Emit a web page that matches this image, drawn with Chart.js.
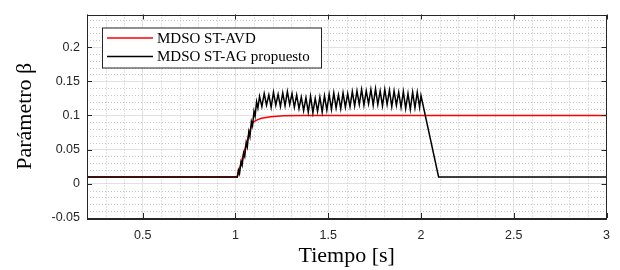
<!DOCTYPE html>
<html>
<head>
<meta charset="utf-8">
<script src="https://cdn.jsdelivr.net/npm/chart.js@4.4.1/dist/chart.umd.min.js"></script>
<style>
    html, body { margin: 0; padding: 0; background: #ffffff; }
    #wrap { width: 620px; height: 270px; }
</style>
</head>
<body>
<div id="wrap"><canvas id="betaChart" width="620" height="270"></canvas></div>
<script>

//datos
var seriesNames = ["MDSO ST-AVD", "MDSO ST-AG propuesto"];

//MDSO ST-AVD (rojo)
var avdTime = [0.2, 1.01, 1.03, 1.05, 1.07, 1.09, 1.10, 1.12, 1.14, 1.19, 1.26, 1.37, 3.0];
var avdBeta = [0.01, 0.01, 0.03, 0.05, 0.07, 0.088, 0.091, 0.094, 0.096, 0.098, 0.0995, 0.1, 0.1];

//MDSO ST-AG propuesto (negro)
var agTime = [0.2, 1.01, 1.016, 1.022, 1.030, 1.036, 1.044, 1.050, 1.058, 1.064, 1.072, 1.078, 1.086, 1.092, 1.100, 1.106, 1.114, 1.121,
    1.130, 1.1425, 1.155, 1.1675, 1.180, 1.1925, 1.205, 1.2175, 1.230, 1.2425,
    1.255, 1.2675, 1.280, 1.2925, 1.305, 1.3175, 1.330, 1.3425, 1.355, 1.3675,
    1.380, 1.3925, 1.405, 1.4175, 1.430, 1.4425, 1.455, 1.4675, 1.480, 1.4925,
    1.505, 1.5175, 1.530, 1.5425, 1.555, 1.5675, 1.580, 1.5925, 1.605, 1.6175,
    1.630, 1.6425, 1.655, 1.6675, 1.680, 1.6925, 1.705, 1.7175, 1.730, 1.7425,
    1.755, 1.7675, 1.780, 1.7925, 1.805, 1.8175, 1.830, 1.8425, 1.855, 1.8675,
    1.880, 1.8925, 1.905, 1.9175, 1.930, 1.9425, 1.955, 1.9675, 1.980, 1.9925,
    2.0, 2.095, 3.0];
var agBeta = [0.01, 0.01, 0.020, 0.015, 0.032, 0.027, 0.045, 0.040, 0.060, 0.054, 0.076, 0.069, 0.091, 0.085, 0.106, 0.099, 0.120, 0.111,
    0.128, 0.113, 0.132, 0.115, 0.130, 0.112, 0.134, 0.115, 0.131, 0.113,
    0.133, 0.114, 0.135, 0.116, 0.132, 0.112, 0.130, 0.110, 0.127, 0.107,
    0.126, 0.105, 0.128, 0.104, 0.125, 0.106, 0.127, 0.105, 0.129, 0.108,
    0.131, 0.109, 0.133, 0.111, 0.130, 0.110, 0.133, 0.112, 0.132, 0.113,
    0.135, 0.114, 0.136, 0.116, 0.138, 0.115, 0.136, 0.117, 0.138, 0.115,
    0.139, 0.116, 0.136, 0.114, 0.138, 0.116, 0.137, 0.113, 0.136, 0.115,
    0.134, 0.112, 0.135, 0.110, 0.132, 0.109, 0.134, 0.111, 0.134, 0.112,
    0.129, 0.01, 0.01];

//ejes
var xMin = 0.2, xMax = 3.0, xMajor = 0.5, xMinor = 0.1;
var yMin = -0.05, yMax = 0.2477, yMajor = 0.05, yMinor = 0.01;

function toPoints(t, v) {
    return t.map((tt, i) => ({ x: tt, y: v[i] }));
}

function isMajor(v, step) {
    return Math.abs(v / step - Math.round(v / step)) < 1e-6;
}

function tickText(v) {
    return String(Math.round(v * 100) / 100);
}

var axisColor = '#262626';

//rejilla menor punteada, marcas interiores, caja y leyenda
var matlabFrame = {
    id: 'matlabFrame',
    beforeDatasetsDraw(chart) {
        const { ctx, chartArea: a, scales: { x, y } } = chart;
        ctx.save();
        ctx.strokeStyle = '#c4c4c4';
        ctx.lineWidth = 1;
        ctx.setLineDash([1, 2]);
        x.ticks.forEach(t => {
            if (isMajor(t.value, xMajor)) return;
            const p = Math.round(x.getPixelForValue(t.value)) + 0.5;
            ctx.beginPath(); ctx.moveTo(p, a.top); ctx.lineTo(p, a.bottom); ctx.stroke();
        });
        y.ticks.forEach(t => {
            if (isMajor(t.value, yMajor)) return;
            const p = Math.round(y.getPixelForValue(t.value)) + 0.5;
            ctx.beginPath(); ctx.moveTo(a.left, p); ctx.lineTo(a.right, p); ctx.stroke();
        });
        ctx.restore();
    },
    afterDraw(chart) {
        const { ctx, chartArea: a, scales: { x, y } } = chart;
        ctx.save();
        ctx.strokeStyle = axisColor;
        ctx.lineWidth = 1;
        ctx.setLineDash([]);
        ctx.strokeRect(Math.round(a.left) + 0.5, Math.round(a.top) + 0.5,
            Math.round(a.right - a.left) - 1, Math.round(a.bottom - a.top));
        const len = 5;
        x.ticks.forEach(t => {
            if (!isMajor(t.value, xMajor)) return;
            const p = Math.round(x.getPixelForValue(t.value)) + 0.5;
            ctx.beginPath();
            ctx.moveTo(p, a.bottom); ctx.lineTo(p, a.bottom - len);
            ctx.moveTo(p, a.top); ctx.lineTo(p, a.top + len);
            ctx.stroke();
        });
        y.ticks.forEach(t => {
            if (!isMajor(t.value, yMajor)) return;
            const p = Math.round(y.getPixelForValue(t.value)) + 0.5;
            ctx.beginPath();
            ctx.moveTo(a.left, p); ctx.lineTo(a.left + len, p);
            ctx.moveTo(a.right, p); ctx.lineTo(a.right - len, p);
            ctx.stroke();
        });

        //leyenda
        const bx = a.left + 15, by = a.top + 13, bw = 219, bh = 40;
        ctx.fillStyle = '#ffffff';
        ctx.fillRect(bx, by, bw, bh);
        ctx.strokeStyle = axisColor;
        ctx.strokeRect(bx + 0.5, by + 0.5, bw, bh);
        ctx.font = '15px "Liberation Serif", "Times New Roman", serif';
        ctx.textBaseline = 'middle';
        chart.data.datasets.forEach((ds, i) => {
            const ly = by + 10.5 + i * 18.5;
            ctx.strokeStyle = ds.borderColor;
            ctx.lineWidth = 1.5;
            ctx.beginPath(); ctx.moveTo(bx + 5, ly); ctx.lineTo(bx + 51, ly); ctx.stroke();
            ctx.fillStyle = '#000000';
            ctx.fillText(ds.label, bx + 55, ly + 1);
        });
        ctx.restore();
    }
};

var betaConfig = {
    type: 'line',
    data: {
        datasets: [
            {
                label: seriesNames[0],
                data: toPoints(avdTime, avdBeta),
                borderColor: '#ff0000',
                borderWidth: 1.5,
                pointRadius: 0,
                order: 2,
            },
            {
                label: seriesNames[1],
                data: toPoints(agTime, agBeta),
                borderColor: '#000000',
                borderWidth: 1.5,
                pointRadius: 0,
                order: 1,
            }
        ],
    },
    options: {
        responsive: false,
        animation: false,
        layout: { padding: { top: 10, right: 12, left: 0, bottom: 0 } },
        plugins: {
            legend: { display: false },
            tooltip: { enabled: false },
        },
        scales: {
            x: {
                type: 'linear',
                min: xMin,
                max: xMax,
                afterFit: s => { s.height = 52; },
                border: { color: axisColor, width: 1 },
                grid: {
                    drawTicks: false,
                    color: c => (c.tick && isMajor(c.tick.value, xMajor) ? '#e2e2e2' : 'rgba(0,0,0,0)'),
                },
                ticks: {
                    stepSize: xMinor,
                    autoSkip: false,
                    maxRotation: 0,
                    padding: 10,
                    color: axisColor,
                    font: { family: '"Liberation Sans", Arial, sans-serif', size: 12.5 },
                    callback: v => (isMajor(v, xMajor) ? tickText(v) : ''),
                },
                title: {
                    display: true,
                    text: 'Tiempo [s]',
                    color: '#000000',
                    padding: { top: 0, bottom: 1 },
                    font: { family: '"Liberation Serif", "Times New Roman", serif', size: 22 },
                },
            },
            y: {
                type: 'linear',
                min: yMin,
                max: yMax,
                afterFit: s => { s.width = 87; },
                border: { color: axisColor, width: 1 },
                grid: {
                    drawTicks: false,
                    color: c => (c.tick && isMajor(c.tick.value, yMajor) ? '#e2e2e2' : 'rgba(0,0,0,0)'),
                },
                ticks: {
                    stepSize: yMinor,
                    includeBounds: false,
                    autoSkip: false,
                    padding: 7,
                    color: axisColor,
                    font: { family: '"Liberation Sans", Arial, sans-serif', size: 12.5 },
                    callback: v => (isMajor(v, yMajor) ? tickText(v) : ''),
                },
                title: {
                    display: true,
                    text: 'Parámetro β',
                    color: '#000000',
                    padding: { top: 12, bottom: 0 },
                    font: { family: '"Liberation Serif", "Times New Roman", serif', size: 22 },
                },
            },
        },
    },
    plugins: [matlabFrame],
};

window.addEventListener('DOMContentLoaded', event => {
    new Chart(document.getElementById('betaChart'), betaConfig);
});
</script>
</body>
</html>
